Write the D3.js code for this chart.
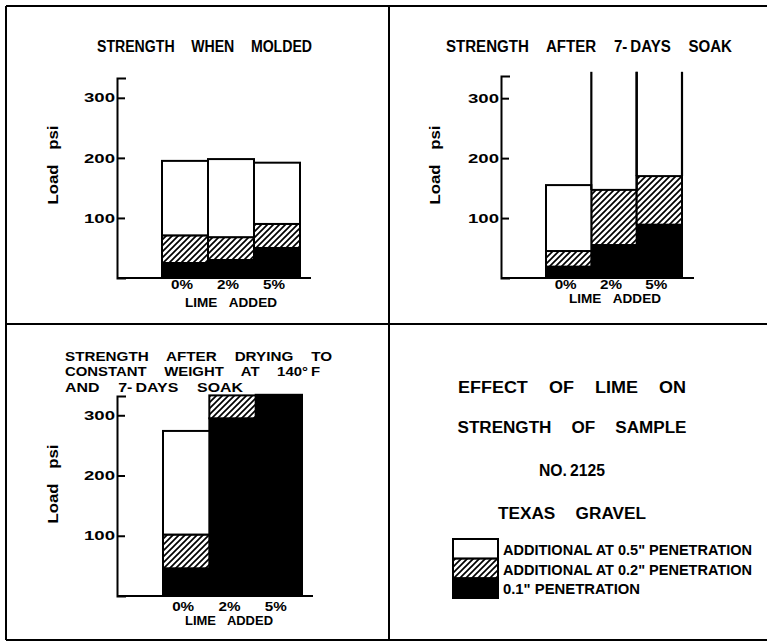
<!DOCTYPE html>
<html>
<head>
<meta charset="utf-8">
<script src="https://cdn.jsdelivr.net/npm/d3@7"></script>
<style>
body { margin: 0; background: #fff; }
text { font-family: "Liberation Sans", Arial, sans-serif; font-weight: bold; fill: #000; }
</style>
</head>
<body>
<div id="chart"></div>
<script>
'use strict';

// categories and tick values
var limeLevels = ['0%', '2%', '5%'];
var layerKeys = ['pen01', 'add02', 'add05'];
var yTicks = [100, 200, 300];

// strength when molded, psi (0.1" load, then additional at 0.2" and 0.5")
var moldedPen01 = [25, 30, 50];
var moldedAdd02 = [46, 38, 40];
var moldedAdd05 = [124, 130, 102];

// after 7-days soak; 0.5" value runs off the chart for 2% and 5%
var soakPen01 = [19, 55, 89];
var soakAdd02 = [26, 92, 81];
var soakAdd05 = [110, null, null];

// after drying to constant weight at 140 F and 7-days soak
var dryPen01 = [46, 295, 334];
var dryAdd02 = [56, 38, 0];
var dryAdd05 = [172, 0, 0];

// texts (thin spaces where the lettering is tight)
var titleMolded = ['STRENGTH WHEN MOLDED'];
var titleSoak = ['STRENGTH AFTER 7-\u2009DAYS SOAK'];
var titleDry = ['STRENGTH AFTER DRYING TO', 'CONSTANT WEIGHT AT 140°\u2009F', 'AND 7-\u2009DAYS SOAK'];
var infoLines = ['EFFECT OF LIME ON', 'STRENGTH OF SAMPLE', 'NO.\u20092125', 'TEXAS GRAVEL'];
var legendLabels = ['ADDITIONAL AT 0.5" PENETRATION', 'ADDITIONAL AT 0.2" PENETRATION', '0.1" PENETRATION'];
var yLabel = 'Load psi';
var xLabel = 'LIME ADDED';

var offScaleTop = 344;

var svg = d3.select('#chart')
    .append('svg')
        .attr('width', 767)
        .attr('height', 642);

// diagonal hatch
var pat = svg.append('defs').append('pattern')
    .attr('id', 'hatch')
    .attr('patternUnits', 'userSpaceOnUse')
    .attr('width', 6)
    .attr('height', 6);
pat.append('rect').attr('width', 6).attr('height', 6).attr('fill', '#fff');
pat.append('path')
    .attr('d', 'M-1,1 l2,-2 M0,6 l6,-6 M5,7 l2,-2')
    .attr('stroke', '#000')
    .attr('stroke-width', 1.7);

var fills = { pen01: '#000', add02: 'url(#hatch)', add05: '#fff' };

// frame
var frame = [
    [6, 6, 767, 6], [6, 6, 6, 640], [6, 640, 767, 640],
    [389, 6, 389, 640], [6, 324, 767, 324]
];
svg.selectAll('line.frame')
    .data(frame)
    .enter()
        .append('line')
        .attr('class', 'frame')
        .attr('x1', function(d){ return d[0]; })
        .attr('y1', function(d){ return d[1]; })
        .attr('x2', function(d){ return d[2]; })
        .attr('y2', function(d){ return d[3]; })
        .attr('stroke', '#000')
        .attr('stroke-width', 2);

function putText(g, str, x, y, size, len, anchor, spacing){
    return g.append('text')
        .attr('x', x)
        .attr('y', y)
        .attr('font-size', size)
        .attr('text-anchor', anchor || 'start')
        .attr('textLength', len)
        .attr('lengthAdjust', 'spacingAndGlyphs')
        .style('word-spacing', spacing || '0.9em')
        .text(str);
}

function drawPanel(p){
    var g = svg.append('g');

    // set the ranges
    var x = d3.scaleBand().domain(limeLevels).range([p.barLeft, p.barRight]).padding(0);
    var y = d3.scaleLinear().domain([0, p.yMax]).range([p.base, p.top]);

    var rows = limeLevels.map(function(lime, i){
        return { lime: lime, pen01: p.pen01[i], add02: p.add02[i], add05: p.add05[i] || 0, open: p.add05[i] === null };
    });
    var series = d3.stack().keys(layerKeys)(rows);

    // stacked bars
    series.forEach(function(s){
        g.selectAll(null)
            .data(s.filter(function(d){ return d[1] > d[0]; }))
            .enter()
                .append('rect')
                .attr('x', function(d){ return x(d.data.lime); })
                .attr('width', x.bandwidth())
                .attr('y', function(d){ return y(d[1]); })
                .attr('height', function(d){ return y(d[0]) - y(d[1]); })
                .attr('fill', fills[s.key])
                .attr('stroke', '#000')
                .attr('stroke-width', 2);
    });

    // values running off the chart: open sides going up
    rows.filter(function(d){ return d.open; }).forEach(function(d){
        var top = d.pen01 + d.add02;
        [x(d.lime), x(d.lime) + x.bandwidth()].forEach(function(xx){
            g.append('line')
                .attr('x1', xx).attr('x2', xx)
                .attr('y1', y(top)).attr('y2', y(offScaleTop))
                .attr('stroke', '#000')
                .attr('stroke-width', 2.2);
        });
    });

    // y axis, ticks pointing inward
    var ax = g.append('g')
        .attr('transform', 'translate(' + p.axisX + ',0)')
        .call(d3.axisLeft(y).tickValues(yTicks).tickSizeInner(-8).tickSizeOuter(-9).tickPadding(2));
    ax.selectAll('path, line').attr('stroke', '#000').attr('stroke-width', 2);
    ax.selectAll('text')
        .attr('font-size', 13)
        .attr('textLength', 31)
        .attr('lengthAdjust', 'spacingAndGlyphs')
        .attr('fill', '#000');

    // baseline
    g.append('line')
        .attr('x1', p.axisX).attr('x2', p.axisRight)
        .attr('y1', y(0)).attr('y2', y(0))
        .attr('stroke', '#000')
        .attr('stroke-width', 2);

    // x labels
    limeLevels.forEach(function(lime){
        putText(g, lime, x(lime) + x.bandwidth() / 2 - 3, p.tickY, 12, 22, 'middle');
    });
    putText(g, xLabel, p.xLabelX, p.xLabelY, 12, p.xLabelLen, 'middle', '0.6em');

    // y label
    g.append('text')
        .attr('transform', 'translate(' + p.yLabelX + ',' + p.yLabelY + ') rotate(-90)')
        .attr('font-size', 15)
        .attr('text-anchor', 'middle')
        .attr('textLength', 79)
        .attr('lengthAdjust', 'spacingAndGlyphs')
        .style('word-spacing', '0.6em')
        .text(yLabel);

    // title
    p.title.forEach(function(t, i){
        putText(g, t, p.titleX, p.titleY[i], p.titleSize, p.titleLen[i]);
    });
}

drawPanel({
    pen01: moldedPen01, add02: moldedAdd02, add05: moldedAdd05,
    axisX: 117, axisRight: 311, barLeft: 162, barRight: 300,
    base: 278, top: 78, yMax: 333,
    tickY: 289, xLabelX: 231, xLabelY: 307, xLabelLen: 92,
    yLabelX: 58, yLabelY: 165,
    title: titleMolded, titleX: 97, titleY: [52], titleLen: [215], titleSize: 16
});

drawPanel({
    pen01: soakPen01, add02: soakAdd02, add05: soakAdd05,
    axisX: 501, axisRight: 694, barLeft: 546, barRight: 682,
    base: 278, top: 76, yMax: 337,
    tickY: 289, xLabelX: 615, xLabelY: 303, xLabelLen: 92,
    yLabelX: 440, yLabelY: 165,
    title: titleSoak, titleX: 446, titleY: [52], titleLen: [286], titleSize: 16
});

drawPanel({
    pen01: dryPen01, add02: dryAdd02, add05: dryAdd05,
    axisX: 117, axisRight: 313, barLeft: 163, barRight: 302,
    base: 596, top: 396, yMax: 332,
    tickY: 611, xLabelX: 229, xLabelY: 625, xLabelLen: 88,
    yLabelX: 58, yLabelY: 484,
    title: titleDry, titleX: 65, titleY: [361, 376, 392], titleLen: [267, 255, 178], titleSize: 13.5
});

// info panel
var info = svg.append('g');
var infoY = [393, 433, 476, 519];
var infoLen = [228, 229, 66, 148];
infoLines.forEach(function(t, i){
    putText(info, t, 572, infoY[i], 16, infoLen[i], 'middle');
});

// legend, top to bottom
var legendKeys = ['add05', 'add02', 'pen01'];
var legendY = d3.scaleBand().domain(legendKeys).range([539, 598]);
info.selectAll('rect.key')
    .data(legendKeys)
    .enter()
        .append('rect')
        .attr('class', 'key')
        .attr('x', 453)
        .attr('y', function(d){ return legendY(d); })
        .attr('width', 45)
        .attr('height', legendY.bandwidth())
        .attr('fill', function(d){ return fills[d]; })
        .attr('stroke', '#000')
        .attr('stroke-width', 2);
var legendLen = [249, 249, 137];
legendKeys.forEach(function(k, i){
    putText(info, legendLabels[i], 503, legendY(k) + 16, 14.5, legendLen[i], 'start', '0');
});
</script>
</body>
</html>
